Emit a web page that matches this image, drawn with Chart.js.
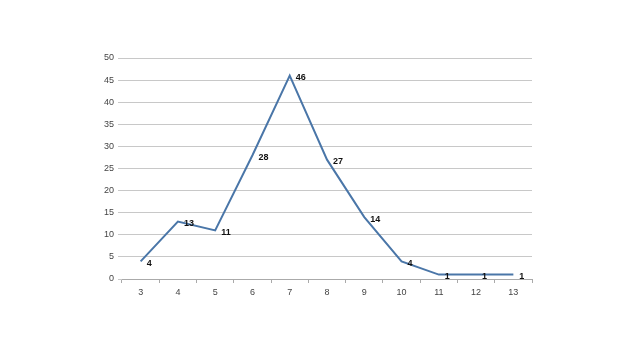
<!DOCTYPE html>
<html>
<head>
<meta charset="utf-8">
<script src="https://cdn.jsdelivr.net/npm/chart.js@4/dist/chart.umd.min.js"></script>
<style>
  html, body { margin: 0; padding: 0; background: #fff; }
  #wrap { width: 640px; height: 360px; }
</style>
</head>
<body>
<div id="wrap"><canvas id="lineChart"></canvas></div>
<script>
const categories = ['3', '4', '5', '6', '7', '8', '9', '10', '11', '12', '13'];
const counts = [4, 13, 11, 28, 46, 27, 14, 4, 1, 1, 1];

// draws the value next to each point, like the spreadsheet labels
const valueLabels = {
    id: 'valueLabels',
    afterDatasetsDraw(chart) {
        const ctx = chart.ctx;
        const meta = chart.getDatasetMeta(0);
        ctx.save();
        ctx.font = 'bold 9px "Liberation Sans", Arial, sans-serif';
        ctx.fillStyle = '#111';
        ctx.textAlign = 'left';
        ctx.textBaseline = 'middle';
        meta.data.forEach(function (pt, i) {
            ctx.fillText(String(counts[i]), pt.x + 6, pt.y + 2);
        });
        ctx.restore();
    }
};

const ctxLine = document.getElementById('lineChart').getContext('2d');
new Chart(ctxLine, {
    type: 'line',
    data: {
        labels: categories,
        datasets: [{
            data: counts,
            borderColor: '#4a76a8',
            borderWidth: 2,
            pointRadius: 0,
            tension: 0,
            fill: false
        }]
    },
    options: {
        responsive: true,
        maintainAspectRatio: false,
        animation: false,
        layout: {
            padding: { left: 0, right: 108, top: 58, bottom: 61 }
        },
        plugins: {
            legend: { display: false },
            tooltip: { enabled: false }
        },
        scales: {
            x: {
                offset: true,
                afterFit: function (scale) { scale.height = 20; },
                grid: {
                    offset: true,
                    drawOnChartArea: false,
                    tickLength: 4,
                    color: '#aaa'
                },
                border: { color: '#aaa' },
                ticks: {
                    color: '#444',
                    font: { family: '"Liberation Sans", Arial, sans-serif', size: 9 },
                    padding: 4,
                    maxRotation: 0
                }
            },
            y: {
                min: 0,
                max: 50,
                afterFit: function (scale) { scale.width = 122; },
                grid: {
                    color: '#c8c8c8',
                    tickLength: 4
                },
                border: { display: false },
                ticks: {
                    stepSize: 5,
                    color: '#444',
                    font: { family: '"Liberation Sans", Arial, sans-serif', size: 9 },
                    padding: 4
                }
            }
        }
    },
    plugins: [valueLabels]
});
</script>
</body>
</html>
